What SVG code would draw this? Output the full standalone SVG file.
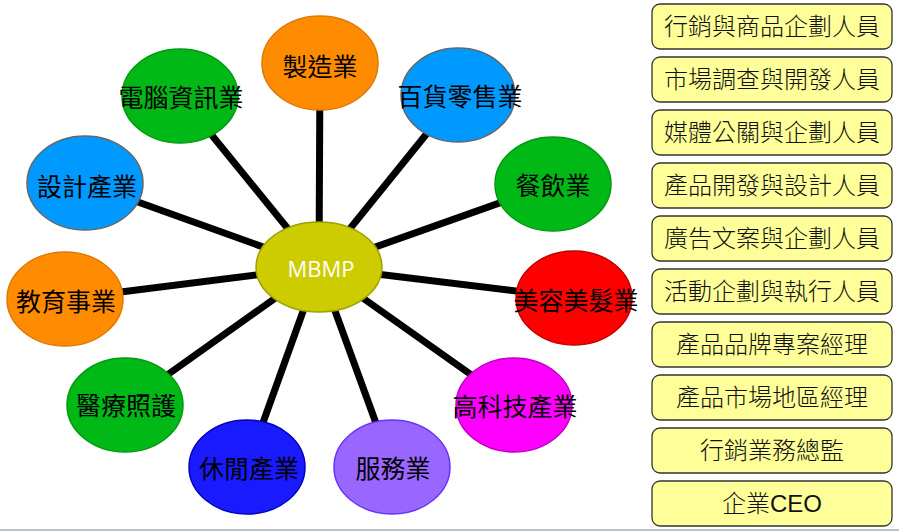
<svg xmlns="http://www.w3.org/2000/svg" width="899" height="531" viewBox="0 0 899 531">
<style>
.node ellipse{stroke-width:1.5}
.nt{font-family:"Noto Sans CJK TC","Noto Sans CJK SC",sans-serif;font-size:25px;fill:#000;text-anchor:middle}
.box rect{fill:#FFFF99;stroke:#333;stroke-width:1.3}
.bt{font-family:"Liberation Sans","Noto Sans CJK TC",sans-serif;font-size:24px;font-weight:300;fill:#111;text-anchor:middle}
#connectors line{stroke:#000;stroke-width:7}
.orange{fill:#FF8C00;stroke:#E07800}
.green{fill:#00B816;stroke:#009A10}
.blue{fill:#0099FF;stroke:#666}
.red{fill:#FF0000;stroke:#C00000}
.mag{fill:#FF00FF;stroke:#C000C0}
.dblue{fill:#1A1AFF;stroke:#0000C0}
.purple{fill:#9966FF;stroke:#6633FF}
</style>
<rect width="899" height="531" fill="#fff"/>
<line x1="0" y1="530" x2="899" y2="530" stroke="#A8B0B4" stroke-width="1.5"/>
<g id="connectors">
<line x1="319" y1="267" x2="320" y2="63"/>
<line x1="319" y1="267" x2="458" y2="95"/>
<line x1="319" y1="267" x2="553" y2="184"/>
<line x1="319" y1="267" x2="574" y2="298"/>
<line x1="319" y1="267" x2="514" y2="405"/>
<line x1="319" y1="267" x2="392" y2="467"/>
<line x1="319" y1="267" x2="247" y2="467"/>
<line x1="319" y1="267" x2="125" y2="405"/>
<line x1="319" y1="267" x2="65" y2="299"/>
<line x1="319" y1="267" x2="85" y2="183"/>
<line x1="319" y1="267" x2="180" y2="96"/>
</g>
<g id="n-mbmp" class="node"><ellipse cx="319" cy="267" rx="63" ry="45" fill="#CCCC00" stroke="#A0A000" stroke-width="2"/><text x="321" y="277" font-family="'Open Sans',sans-serif" font-size="22" fill="#fff" text-anchor="middle">MBMP</text></g>
<g id="n1" class="node"><ellipse class="orange" cx="320" cy="63" rx="58" ry="47"/><text class="nt" x="320" y="76">製造業</text></g>
<g id="n2" class="node"><ellipse class="blue" cx="458" cy="95" rx="57" ry="47"/><text class="nt" x="460" y="106">百貨零售業</text></g>
<g id="n3" class="node"><ellipse class="green" cx="553" cy="184" rx="58" ry="47"/><text class="nt" x="553" y="195">餐飲業</text></g>
<g id="n4" class="node"><ellipse class="red" cx="574" cy="298" rx="58" ry="47"/><text class="nt" x="576" y="310">美容美髮業</text></g>
<g id="n5" class="node"><ellipse class="mag" cx="514" cy="405" rx="58" ry="47"/><text class="nt" x="515" y="416">高科技產業</text></g>
<g id="n6" class="node"><ellipse class="purple" cx="392" cy="467" rx="58" ry="47"/><text class="nt" x="393" y="478">服務業</text></g>
<g id="n7" class="node"><ellipse class="dblue" cx="247" cy="467" rx="58" ry="47"/><text class="nt" x="249" y="478">休閒產業</text></g>
<g id="n8" class="node"><ellipse class="green" cx="125" cy="405" rx="58" ry="47"/><text class="nt" x="126" y="415">醫療照護</text></g>
<g id="n9" class="node"><ellipse class="orange" cx="65" cy="299" rx="58" ry="47"/><text class="nt" x="66" y="311">教育事業</text></g>
<g id="n10" class="node"><ellipse class="blue" cx="85" cy="183" rx="58" ry="47"/><text class="nt" x="87" y="196">設計產業</text></g>
<g id="n11" class="node"><ellipse class="green" cx="180" cy="96" rx="58" ry="47"/><text class="nt" x="181" y="107">電腦資訊業</text></g>
<g id="b1" class="box"><rect x="652" y="4" width="240" height="45" rx="8"/><text class="bt" x="772" y="35">行銷與商品企劃人員</text></g>
<g id="b2" class="box"><rect x="652" y="57" width="240" height="45" rx="8"/><text class="bt" x="772" y="88">市場調查與開發人員</text></g>
<g id="b3" class="box"><rect x="652" y="110" width="240" height="45" rx="8"/><text class="bt" x="772" y="141">媒體公關與企劃人員</text></g>
<g id="b4" class="box"><rect x="652" y="163" width="240" height="45" rx="8"/><text class="bt" x="772" y="194">產品開發與設計人員</text></g>
<g id="b5" class="box"><rect x="652" y="216" width="240" height="45" rx="8"/><text class="bt" x="772" y="247">廣告文案與企劃人員</text></g>
<g id="b6" class="box"><rect x="652" y="269" width="240" height="45" rx="8"/><text class="bt" x="772" y="300">活動企劃與執行人員</text></g>
<g id="b7" class="box"><rect x="652" y="322" width="240" height="45" rx="8"/><text class="bt" x="772" y="353">產品品牌專案經理</text></g>
<g id="b8" class="box"><rect x="652" y="375" width="240" height="45" rx="8"/><text class="bt" x="772" y="406">產品市場地區經理</text></g>
<g id="b9" class="box"><rect x="652" y="428" width="240" height="45" rx="8"/><text class="bt" x="772" y="459">行銷業務總監</text></g>
<g id="b10" class="box"><rect x="652" y="481" width="240" height="45" rx="8"/><text class="bt" x="772" y="512">企業CEO</text></g>
</svg>
